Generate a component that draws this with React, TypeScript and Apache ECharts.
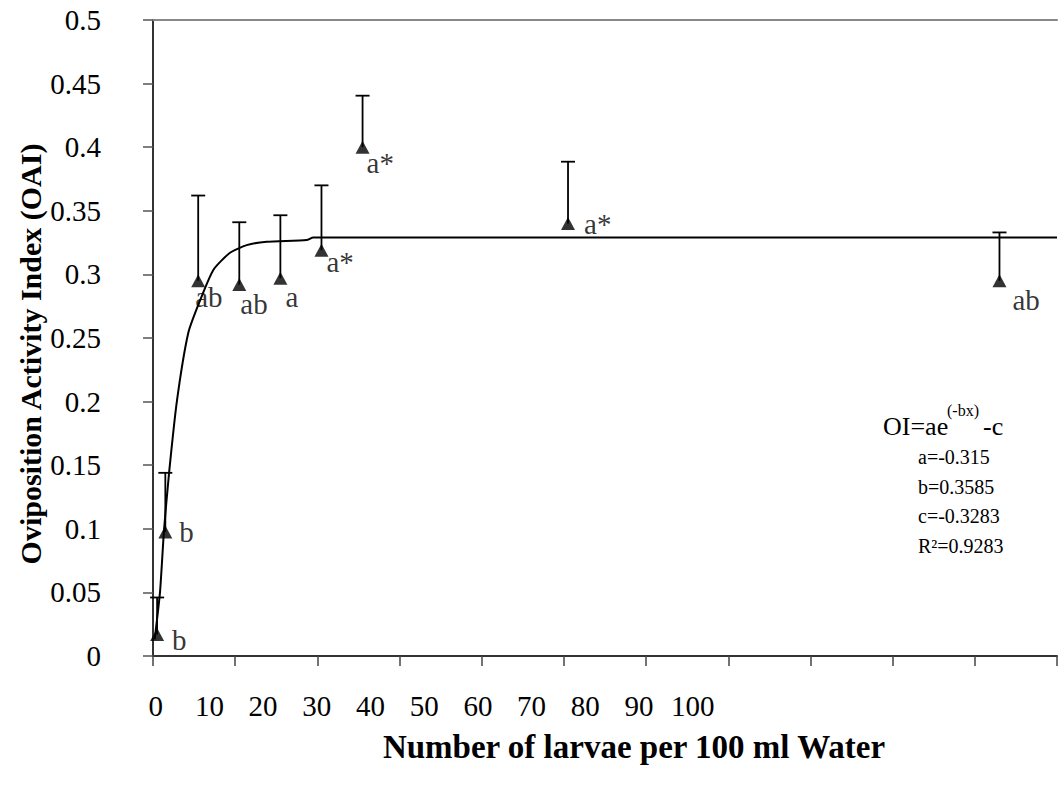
import React, { useEffect, useRef } from "react";
import * as echarts from "echarts";

// ---- data ----
const tickLabels = [0, 10, 20, 30, 40, 50, 60, 70, 80, 90, 100];
const larvae = [0.5, 1.5, 5.5, 10.5, 15.5, 20.5, 25.5, 50.5, 103];
const oai = [0.017, 0.0975, 0.295, 0.292, 0.297, 0.319, 0.4, 0.34, 0.295];
const oaiUpper = [0.046, 0.144, 0.362, 0.341, 0.3465, 0.37, 0.4405, 0.3886, 0.333];
const letters = ["b", "b", "ab", "ab", "a", "a*", "a*", "a*", "ab"];
const curveX = [0.2, 0.85, 1.34, 1.95, 2.92, 4.29, 5.63, 7.34, 9.37, 11.4, 13.83, 18.7, 19.5, 110];
const curveY = [0.013, 0.05, 0.099, 0.1436, 0.201, 0.254, 0.278, 0.3035, 0.317, 0.323, 0.3257, 0.327, 0.329, 0.329];
const equationLines = ["a=-0.315", "b=0.3585", "c=-0.3283", "R\u00b2=0.9283"];

// label offsets (text left edge / vertical centre relative to the marker centre)
const letterOffsets: [number, number][] = [
  [15, 6], [14, 0], [-3, 16], [1, 19], [5, 19], [5, 12], [4, 16], [16, 0], [13, 19],
];

const SERIF = "'Liberation Serif', 'Times New Roman', serif";

export default function App() {
  const ref = useRef<HTMLDivElement>(null);
  useEffect(() => {
    if (!ref.current) return;
    const chart = echarts.init(ref.current, null, { renderer: "svg" });
    const symW = 14, symH = 13;
    const option: any = {
      animation: false,
      backgroundColor: "#fff",
      grid: { left: 153, top: 20, width: 904, height: 636 },
      xAxis: [
        {
          type: "value", min: 0, max: 110, interval: 10, position: "bottom",
          axisLine: { show: true, lineStyle: { color: "#333", width: 2 } },
          axisTick: { show: true, length: 10, inside: false, lineStyle: { color: "#444", width: 1.5 } },
          axisLabel: { show: false },
          splitLine: { show: false },
        },
        {
          type: "value", min: -0.5, max: -0.5 + 904 / 5.37, position: "bottom",
          axisLine: { show: false }, axisTick: { show: false }, splitLine: { show: false },
          axisLabel: {
            show: true, customValues: tickLabels, margin: 35,
            color: "#000", fontSize: 29, fontFamily: SERIF,
            formatter: (v: number) => String(Math.round(v)),
          },
        },
        {
          type: "value", min: 0, max: 110, position: "top",
          axisLine: { show: true, lineStyle: { color: "#888", width: 2 } },
          axisTick: { show: false }, axisLabel: { show: false }, splitLine: { show: false },
        },
      ],
      yAxis: {
        type: "value", min: 0, max: 0.5, interval: 0.05,
        axisLine: { show: true, lineStyle: { color: "#333", width: 2 } },
        axisTick: { show: true, length: 10, inside: false, lineStyle: { color: "#555", width: 1.5 } },
        axisLabel: {
          color: "#000", fontSize: 29, fontFamily: SERIF, margin: 52,
          formatter: (v: number) => String(+v.toFixed(2)),
        },
        splitLine: { show: false },
      },
      series: [
        {
          type: "line", xAxisIndex: 0,
          data: curveX.map((x, i) => [x, curveY[i]]),
          showSymbol: false, symbol: "none", smooth: 0.2,
          lineStyle: { color: "#000", width: 2 }, z: 2,
        },
        {
          type: "custom", xAxisIndex: 0,
          data: larvae.map((x, i) => [x, oai[i], oaiUpper[i]]),
          renderItem: (params: any, api: any) => {
            const b = api.coord([api.value(0), api.value(1)]);
            const t = api.coord([api.value(0), api.value(2)]);
            const st = { stroke: "#000", lineWidth: 1.8 };
            return {
              type: "group",
              children: [
                { type: "line", shape: { x1: b[0], y1: b[1], x2: t[0], y2: t[1] }, style: st },
                { type: "line", shape: { x1: t[0] - 7, y1: t[1], x2: t[0] + 7, y2: t[1] }, style: st },
              ],
            };
          },
          z: 3,
        },
        {
          type: "scatter", xAxisIndex: 0,
          symbol: "triangle", symbolSize: [symW, symH],
          itemStyle: { color: "#000" },
          data: larvae.map((x, i) => ({
            value: [x, oai[i]],
            label: {
              show: true,
              formatter: letters[i],
              position: [letterOffsets[i][0] + symW / 2, letterOffsets[i][1] + symH / 2],
              align: "left", verticalAlign: "middle",
              color: "#000", fontSize: 29, fontFamily: SERIF,
            },
          })),
          z: 4,
        },
      ],
      graphic: [
        {
          type: "text", x: 30, y: 354, rotation: Math.PI / 2,
          style: {
            text: "Oviposition Activity Index (OAI)", fill: "#000",
            font: `bold 30px ${SERIF}`, align: "center", verticalAlign: "middle",
          },
        },
        {
          type: "text", x: 634, y: 747,
          style: {
            text: "Number of larvae per 100 ml Water", fill: "#000",
            font: `bold 33px ${SERIF}`, align: "center", verticalAlign: "middle",
          },
        },
        {
          type: "text", x: 883, y: 426,
          style: { text: "OI=ae", fill: "#000", font: `26px ${SERIF}`, align: "left", verticalAlign: "middle" },
        },
        {
          type: "text", x: 947, y: 410,
          style: { text: "(-bx)", fill: "#000", font: `16px ${SERIF}`, align: "left", verticalAlign: "middle" },
        },
        {
          type: "text", x: 983, y: 426,
          style: { text: "-c", fill: "#000", font: `26px ${SERIF}`, align: "left", verticalAlign: "middle" },
        },
        ...equationLines.map((t, i) => ({
          type: "text", x: 918, y: 457 + i * 29.7,
          style: { text: t, fill: "#000", font: `20px ${SERIF}`, align: "left", verticalAlign: "middle" },
        })),
      ],
    };
    chart.setOption(option);
    return () => chart.dispose();
  }, []);
  return (
    <div
      ref={ref}
      style={{ position: "fixed", left: 0, top: 0, width: 1060, height: 791, background: "#fff" }}
    />
  );
}
